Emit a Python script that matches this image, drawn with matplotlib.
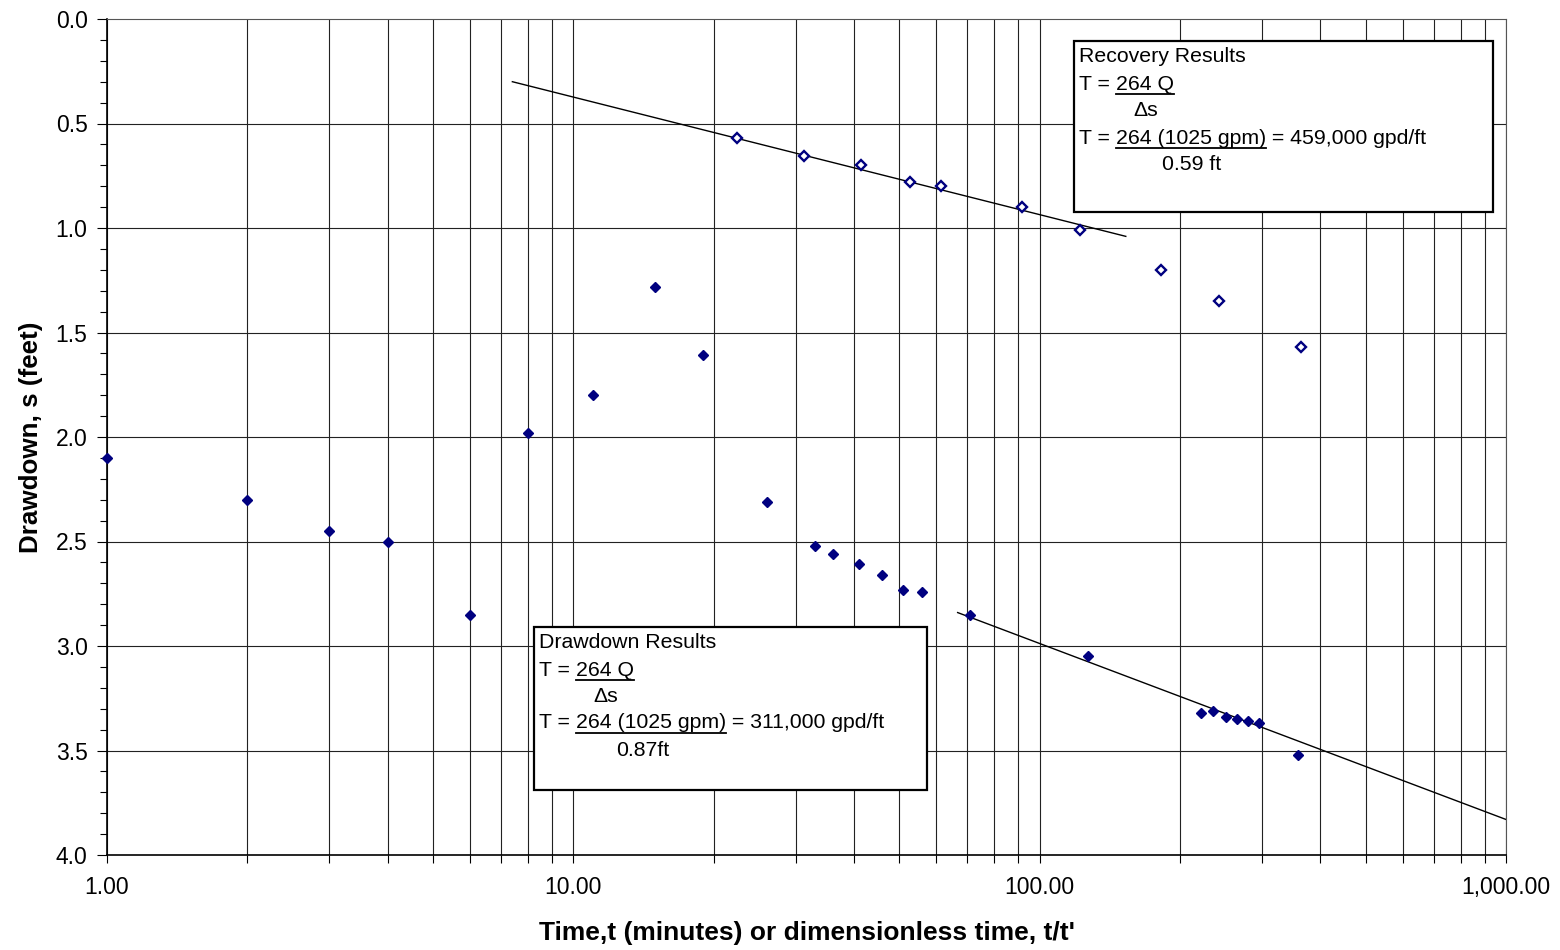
import numpy as np
import matplotlib
matplotlib.use('Agg')
import matplotlib.pyplot as plt
from matplotlib.ticker import FixedLocator, FuncFormatter, MultipleLocator, NullFormatter

plt.rcParams['font.family'] = ['Liberation Sans', 'DejaVu Sans']

# pumping (drawdown) data
t_draw = [1, 2, 3, 4, 6, 8, 11, 15, 19, 26, 33, 36, 41, 46, 51, 56, 71, 127,
          222, 235, 251, 265, 280, 296, 358]
s_draw = [2.10, 2.30, 2.45, 2.50, 2.85, 1.98, 1.80, 1.28, 1.61, 2.31, 2.52, 2.56,
          2.61, 2.66, 2.73, 2.74, 2.85, 3.05, 3.32, 3.31, 3.34, 3.35, 3.36, 3.37, 3.52]

# recovery data (t/t')
t_rec = [22.4, 31.3, 41.3, 52.8, 61.5, 91.8, 122, 182, 243, 363]
s_rec = [0.57, 0.655, 0.70, 0.78, 0.80, 0.90, 1.01, 1.20, 1.35, 1.57]

# straight line fits (end points)
fit_rec_t = [7.4, 153]
fit_rec_s = [0.30, 1.04]
fit_draw_t = [66.7, 1000]
fit_draw_s = [2.84, 3.83]

W, H = 1560, 950
fig = plt.figure(figsize=(15.6, 9.5), dpi=100)
ax = fig.add_axes([107 / W, 1 - 855 / H, (1506 - 107) / W, (855 - 19) / H])

ax.set_xscale('log')
ax.set_xlim(1, 1000)
ax.set_ylim(4.0, 0.0)

# grid
xgrid = [m * 10 ** d for d in range(3) for m in range(1, 10)] + [1000]
ax.xaxis.set_major_locator(FixedLocator([1, 10, 100, 1000]))
ax.xaxis.set_minor_locator(FixedLocator(xgrid))
ax.xaxis.set_major_formatter(FuncFormatter(lambda v, p: f'{v:,.2f}'))
ax.xaxis.set_minor_formatter(NullFormatter())
ax.yaxis.set_major_locator(MultipleLocator(0.5))
ax.yaxis.set_minor_locator(MultipleLocator(0.1))
ax.yaxis.set_major_formatter(FuncFormatter(lambda v, p: f'{v:.1f}'))
for v in xgrid:
    ax.axvline(v, color='#222222', lw=0.8, zorder=0)
for v in np.arange(0.5, 4.0, 0.5):
    ax.axhline(v, color='#222222', lw=0.8, zorder=0)

ax.tick_params(axis='both', which='both', direction='out', labelsize=16.5, color='black')
ax.tick_params(axis='x', which='both', length=6, width=0.8, pad=9)
ax.tick_params(axis='y', which='major', length=7, width=0.8, pad=7)
ax.tick_params(axis='y', which='minor', length=5, width=0.8)
for sp in ['left', 'bottom']:
    ax.spines[sp].set_linewidth(1.2)
    ax.spines[sp].set_color('black')
for sp in ['top', 'right']:
    ax.spines[sp].set_linewidth(0.8)
    ax.spines[sp].set_color('#555555')

ax.plot(fit_rec_t, fit_rec_s, color='black', lw=1, zorder=2)
ax.plot(fit_draw_t, fit_draw_s, color='black', lw=1, zorder=2)
ax.plot(t_draw, s_draw, 'D', color='#000080', markersize=5.6, zorder=3, clip_on=False)
ax.plot(t_rec, s_rec, 'D', markerfacecolor='white', markeredgecolor='#000080',
        markeredgewidth=1.7, markersize=5, zorder=3, clip_on=False)

ax.set_xlabel("Time,t (minutes) or dimensionless time, t/t'", fontsize=19,
              fontweight='bold', labelpad=16)
ax.set_ylabel('Drawdown, s (feet)', fontsize=18.7, fontweight='bold', labelpad=9)


def ax_xy(px, py):
    # figure pixel -> axes fraction (for annotation placement only)
    return (px - 107) / (1506 - 107), 1 - (py - 19) / (855 - 19)


def add_box(x0, y0, x1, y1):
    a0 = ax_xy(x0, y1)
    a1 = ax_xy(x1, y0)
    rect = plt.Rectangle(a0, a1[0] - a0[0], a1[1] - a0[1], transform=ax.transAxes,
                         facecolor='white', edgecolor='black', lw=1.6, zorder=5)
    ax.add_patch(rect)


fs = 15.3
renderer = fig.canvas.get_renderer()


def put(px, py, s):
    x, y = ax_xy(px, py)
    t = ax.text(x, y, s, transform=ax.transAxes, fontsize=fs, va='center',
                ha='left', zorder=6)
    bb = t.get_window_extent(renderer)
    return t, bb


def put_line(px, py, parts):
    # parts: list of (text, underlined)
    x = px
    for s, ul in parts:
        t, bb = put(x, py, s)
        x0 = bb.x0
        x1 = bb.x1
        if ul:
            uy = H - (py + 9.5)
            fx0, fx1 = x0 / W, x1 / W
            fig.add_artist(plt.Line2D([fx0, fx1], [uy / H, uy / H], color='black',
                                      lw=1.3, zorder=7))
        x = x1


def results_box(box, left, rows, title, value, denom, dsx, denx):
    add_box(*box)
    put_line(left, rows[0], [(title, False)])
    put_line(left, rows[1], [('T = ', False), ('264 Q', True)])
    put_line(dsx, rows[2], [('\u0394s', False)])
    put_line(left, rows[3], [('T = ', False), ('264 (1025 gpm)', True),
                             (' = ' + value, False)])
    put_line(denx, rows[4], [(denom, False)])


results_box((1074, 41, 1493, 212), 1079, [56, 84, 111, 138, 165],
            'Recovery Results', '459,000 gpd/ft', '0.59 ft', 1133, 1162)
results_box((534, 627, 927, 790), 539, [642, 670, 697, 723, 751],
            'Drawdown Results', '311,000 gpd/ft', '0.87ft', 593, 616)

fig.savefig('out.png', dpi=100)
